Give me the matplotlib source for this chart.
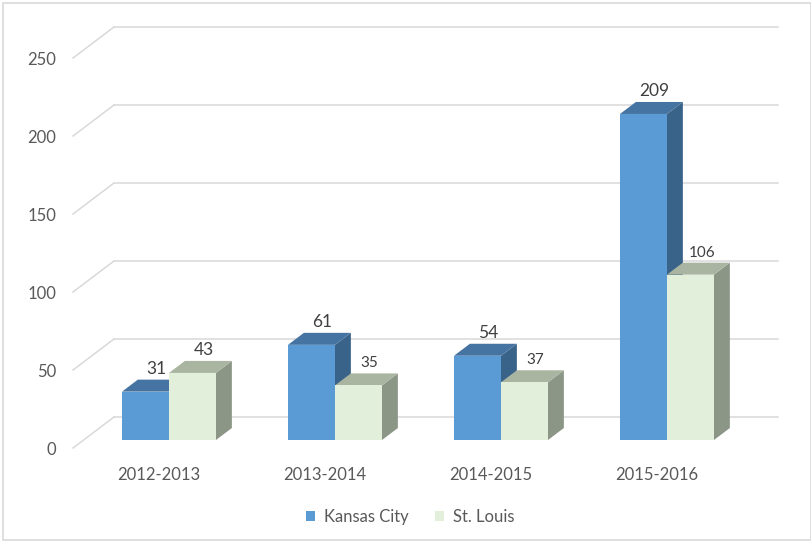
import matplotlib
matplotlib.use("Agg")
import matplotlib.pyplot as plt
from matplotlib.patches import Polygon, Patch, Rectangle

# ---- data ----
seasons = ["2012-2013", "2013-2014", "2014-2015", "2015-2016"]
kansas_city = [31, 61, 54, 209]
st_louis = [43, 35, 37, 106]
ticks = [0, 50, 100, 150, 200, 250]
stl_label_sizes = [12.5, 11, 11, 11]

# ---- style ----
kc_front, kc_top, kc_side = "#5b9bd5", "#4573a2", "#3a6389"
sl_front, sl_top, sl_side = "#e2efda", "#aab5a1", "#8c9686"
grid_col = "#d9d9d9"
tick_col = "#595959"
lab_col = "#404040"
plt.rcParams["font.family"] = ["Lato", "DejaVu Sans"]

fig = plt.figure(figsize=(8.12, 5.42), dpi=100)
ax = fig.add_axes([0, 0, 1, 1])
ax.set_xlim(-169 / 166, 643 / 166)
ax.set_ylim(-102 / 1.56, 440 / 1.56)
ax.axis("off")

# depth geometry (data units)
floor_dx, floor_dy = 41 / 166, 31 / 1.56
f_front = 8 / 31
f_bar = 12 / 31
bdx, bdy = floor_dx * f_bar, floor_dy * f_bar
front_dx, front_dy = -floor_dx * f_front, -floor_dy * f_front
wall_left = -96 / 166
wall_right = 609 / 166
bar_w = 47 / 166

# back wall gridlines + left wall lines
for t in ticks:
    y0 = t + front_dy
    ax.plot([wall_left, wall_left + floor_dx], [y0, y0 + floor_dy],
            color=grid_col, lw=1.1, zorder=1)
    ax.plot([wall_left + floor_dx, wall_right], [y0 + floor_dy, y0 + floor_dy],
            color=grid_col, lw=1.1, zorder=1)
    ax.text(-0.68, y0 - 1.5, str(t), ha="right", va="center",
            fontsize=12, color=tick_col)


def bar3d(x0, v, front, top, side):
    x1 = x0 + bar_w
    ax.add_patch(Polygon([(x1, 0), (x1 + bdx, bdy), (x1 + bdx, v + bdy), (x1, v)],
                         closed=True, facecolor=side, edgecolor="none", zorder=2))
    ax.add_patch(Polygon([(x0, v), (x1, v), (x1 + bdx, v + bdy), (x0 + bdx, v + bdy)],
                         closed=True, facecolor=top, edgecolor="none", zorder=2))
    ax.add_patch(Rectangle((x0, 0), bar_w, v, facecolor=front,
                           edgecolor="none", zorder=2))


for i, season in enumerate(seasons):
    bar3d(i - bar_w, kansas_city[i], kc_front, kc_top, kc_side)
    bar3d(i, st_louis[i], sl_front, sl_top, sl_side)
    ax.text(i - bar_w / 2 + bdx * 0.7, kansas_city[i] + bdy + 2, str(kansas_city[i]),
            ha="center", va="bottom", fontsize=12.5, color=lab_col, zorder=3)
    ax.text(i + bar_w / 2 + bdx * 0.7, st_louis[i] + bdy + 2, str(st_louis[i]),
            ha="center", va="bottom", fontsize=stl_label_sizes[i], color=lab_col, zorder=3)
    ax.text(i + front_dx, front_dy - 17, season, ha="center", va="center",
            fontsize=12, color=tick_col)

handles = [Patch(facecolor=kc_front, label="Kansas City"),
           Patch(facecolor=sl_front, label="St. Louis")]
fig.legend(handles=handles, loc="center", bbox_to_anchor=(0.505, 0.046), ncol=2,
           frameon=False, handlelength=0.55, handleheight=0.55, handletextpad=0.5,
           columnspacing=1.6, prop={"size": 12}, labelcolor=tick_col)

fig.patches.append(Rectangle((3 / 812, 2 / 542), 808 / 812, 537 / 542,
                             transform=fig.transFigure, fill=False,
                             edgecolor=grid_col, lw=1.2))

fig.savefig("out.png", dpi=100)
